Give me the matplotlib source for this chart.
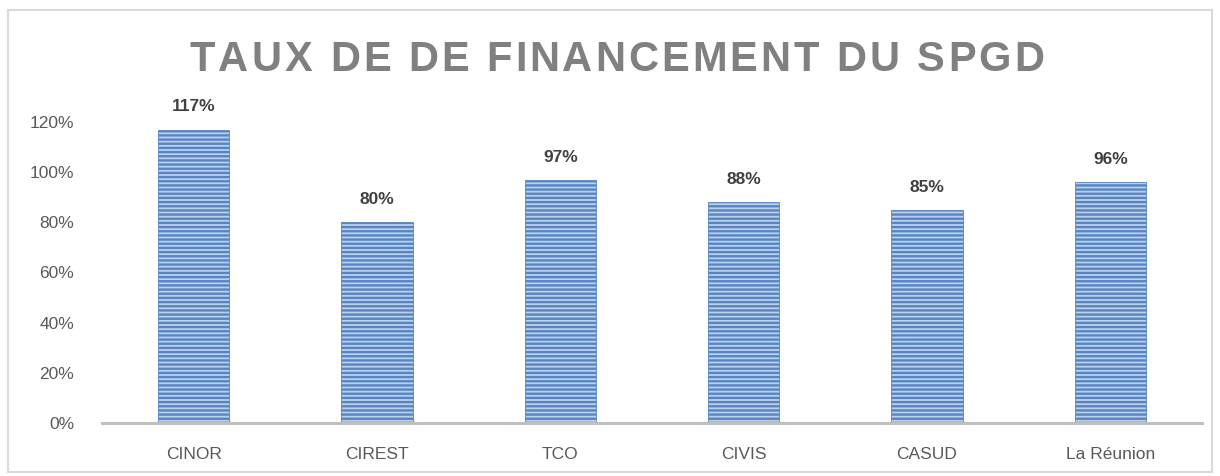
import matplotlib
matplotlib.use("Agg")
import matplotlib.pyplot as plt
import matplotlib.patches as patches
from matplotlib.ticker import PercentFormatter

plt.rcParams['font.family'] = ['Liberation Sans', 'DejaVu Sans']
plt.rcParams['hatch.linewidth'] = 1.7

categories = ['CINOR', 'CIREST', 'TCO', 'CIVIS', 'CASUD', 'La Réunion']
rates = [1.17, 0.80, 0.97, 0.88, 0.85, 0.96]
labels = ['117%', '80%', '97%', '88%', '85%', '96%']
title = 'TAUX DE DE FINANCEMENT DU SPGD'

W, H = 1220, 476
fig = plt.figure(figsize=(W / 100, H / 100), dpi=100)
ax = fig.add_axes([102 / W, (H - 423) / H, 1100 / W, 301 / H])

x = range(len(categories))
ax.bar(x, rates, width=0.39, color='#BDD0EA', edgecolor='#5585C4',
       linewidth=0.6, hatch='----', zorder=2)

for xi, v, lab in zip(x, rates, labels):
    ax.text(xi, v + 0.06, lab, ha='center', va='bottom', fontsize=12.5,
            fontweight='bold', color='#404040', clip_on=False)

ax.set_xlim(-0.5, len(categories) - 0.5)
ax.set_ylim(0, 1.2)
ax.set_yticks([0, 0.2, 0.4, 0.6, 0.8, 1.0, 1.2])
ax.yaxis.set_major_formatter(PercentFormatter(1.0, decimals=0))
ax.set_xticks(list(x))
ax.set_xticklabels(categories)
ax.tick_params(axis='both', length=0, labelsize=12.5, labelcolor='#595959')
ax.tick_params(axis='x', pad=17)
ax.tick_params(axis='y', pad=20)

for s in ['top', 'right', 'left']:
    ax.spines[s].set_visible(False)
ax.spines['bottom'].set_color('#BFBFBF')
ax.spines['bottom'].set_linewidth(2.2)
ax.spines['bottom'].set_zorder(3)

# title with letter spacing: place characters one by one
renderer = fig.canvas.get_renderer()
tsize = 30
spacing = 3.0  # extra px between letters


def text_width(s):
    t = fig.text(0, 0, s, fontsize=tsize, fontweight='bold')
    w = t.get_window_extent(renderer).width
    t.remove()
    return w


space_w = text_width('T T') - text_width('TT')
widths = [space_w if c == ' ' else text_width(c) for c in title]
total = sum(widths) + spacing * (len(title) - 1)
xpos = 617 - total / 2
for c, w in zip(title, widths):
    if c != ' ':
        fig.text(xpos / W, (H - 60) / H, c, ha='left', va='center',
                 fontsize=tsize, fontweight='bold', color='#808080')
    xpos += w + spacing

border = patches.Rectangle((8 / W, 4 / H), 1204 / W, (H - 14) / H,
                           transform=fig.transFigure, fill=False,
                           edgecolor='#D9D9D9', linewidth=1.5)
fig.patches.append(border)

fig.savefig('out.png', dpi=100)
